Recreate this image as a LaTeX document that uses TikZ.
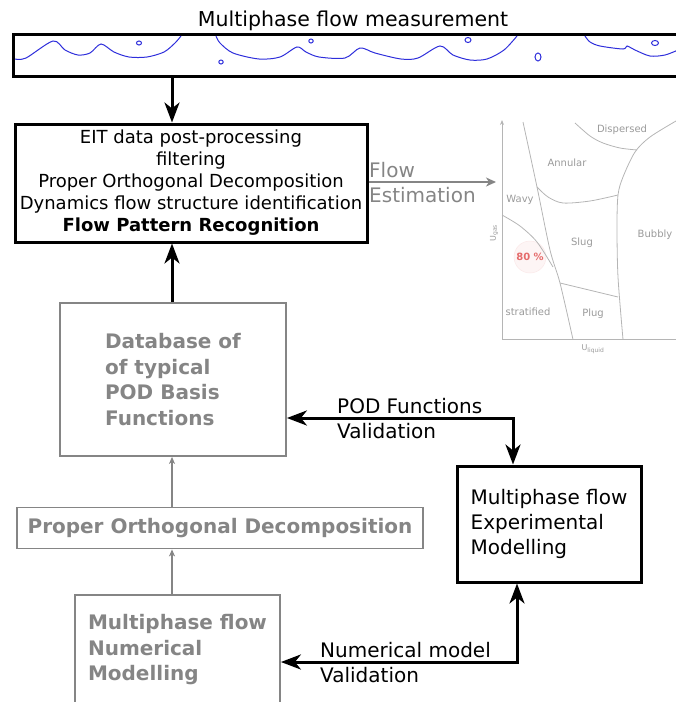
\documentclass[tikz,border=0pt]{standalone}
\usepackage{fontspec}
\setmainfont{DejaVu Sans}
\usetikzlibrary{arrows.meta}
\definecolor{boxgray}{HTML}{858585}
\definecolor{mapgray}{HTML}{B5B5B5}
\definecolor{maptext}{HTML}{9A9A9A}
\definecolor{wave}{HTML}{2E2EDB}
\definecolor{pct}{HTML}{E56B6B}
\begin{document}
\begin{tikzpicture}[x=1pt,y=-1pt,
  blackbox/.style={draw=black, line width=3pt, inner sep=0pt},
  graybox/.style={draw=boxgray, line width=1.8pt, inner sep=0pt},
  graytext/.style={text=boxgray, font=\fontsize{20}{25.5}\selectfont\bfseries},
  bigtext/.style={font=\fontsize{20}{25}\selectfont},
  lbl/.style={anchor=west, align=left, inner sep=0pt, font=\fontsize{20}{25}\selectfont},
  bigarrow/.style={line width=3pt, -{Stealth[length=20pt,width=15pt,inset=6pt]}},
  dblarrow/.style={line width=3pt, line join=miter, {Stealth[length=20pt,width=15pt,inset=6pt]}-{Stealth[length=20pt,width=15pt,inset=6pt]}},
  thinarrow/.style={draw=boxgray, line width=1.3pt, -{Stealth[length=7pt,width=6pt,inset=2pt]}},
  grayarrow/.style={draw=boxgray, line width=1.5pt, -{Stealth[length=10pt,width=9pt,inset=3pt]}},
  mapline/.style={draw=mapgray, line width=0.8pt},
  maplbl/.style={text=maptext, inner sep=0pt, font=\fontsize{10}{12}\selectfont},
  wavy/.style={draw=wave, line width=1pt},
]
\useasboundingbox (0,0) rectangle (676,702);
\clip (0,0) rectangle (676,702);

% ---- pipe ----
\node[font=\fontsize{20.5}{24}\selectfont, inner sep=0pt] (title) at (353,21) {Multiphase flow measurement};
\draw[line width=3pt, line join=miter] (680,34.5) -- (13,34.5) -- (13,76.5) -- (680,76.5);
\draw[wavy] plot[smooth, tension=0.5] coordinates {(15,59) (26,58) (53,41) (65,50) (78,55) (90,53) (101,44) (114,52) (129,57) (147,57) (164,52) (175,43) (181,36)};
\draw[wavy] plot[smooth, tension=0.5] coordinates {(216,36) (220,43) (233,53) (259,59) (280,57) (297,47) (306,52) (319,57) (345,58) (360,48) (375,53) (401,59) (418,58) (440,46) (453,55) (470,60) (487,59) (504,50) (517,36)};
\draw[wavy] plot[smooth, tension=0.5] coordinates {(585,36) (590,42) (600,46) (623,49) (627,46) (635,50) (650,56) (665,55) (678,50)};
\draw[wavy] (139,43) ellipse (2.5 and 2);
\draw[wavy] (311,41) ellipse (2.2 and 2);
\draw[wavy] (221,62) ellipse (2.2 and 2);
\draw[wavy] (468,40) ellipse (3 and 2.5);
\draw[wavy] (538,57) ellipse (3 and 4);
\draw[wavy] (655,43) ellipse (3.5 and 2.5);
\coordinate (pipeout) at (172,77);

% ---- boxes ----
\node[blackbox, minimum width=352pt, minimum height=118pt, align=center,
      font=\fontsize{18}{22}\selectfont] (eit) at (191,183)
  {EIT data post-processing\\filtering\\Proper Orthogonal Decomposition\\Dynamics flow structure identification\\\textbf{Flow Pattern Recognition}};
\node[graybox, graytext, minimum width=226pt, minimum height=153pt, align=left] (db) at (173,379.5)
  {Database of\\of typical\\POD Basis\\Functions};
\node[graybox, graytext, minimum width=406pt, minimum height=41pt] (pod) at (220,528)
  {Proper Orthogonal Decomposition};
\node[graybox, graytext, minimum width=205pt, minimum height=110pt, align=left] (num) at (177.5,650)
  {Multiphase flow\\Numerical\\Modelling};
\node[blackbox, bigtext, minimum width=184pt, minimum height=116pt, align=left] (exp) at (549,524)
  {Multiphase flow\\Experimental\\Modelling};

% ---- connectors ----
\draw[bigarrow] (pipeout) -- (pipeout |- eit.north);
\draw[bigarrow] (db.north -| pipeout) -- (eit.south -| pipeout);
\draw[thinarrow] (pod.north -| pipeout) -- (db.south -| pipeout);
\draw[thinarrow] (num.north -| pipeout) -- (pod.south -| pipeout);

\coordinate (mapin) at (496,182);
\draw[grayarrow] (eit.east |- mapin) -- (mapin);
\node[lbl, text=boxgray] (flowlbl) at (369,182.5) {Flow\\Estimation};

\coordinate (pv) at (513,418);
\draw[dblarrow] (pv -| db.east) -- (pv) -- (pv |- exp.north);
\node[lbl] (pvlbl) at (337,419) {POD Functions\\Validation};

\coordinate (nv) at (517,662);
\draw[dblarrow] (nv -| num.east) -- (nv) -- (nv |- exp.south);
\node[lbl] (nvlbl) at (320,663) {Numerical model\\Validation};

% ---- flow pattern map ----
\fill[pct!7] (530,257) circle (16);
\draw[pct!15, line width=0.5pt] (530,257) circle (16);
\draw[mapline, -{Stealth[length=5pt,width=4pt]}] (502,339.5) -- (502,120);
\draw[mapline] (502,339.5) -- (680,339.5);
\draw[mapline] plot[smooth] coordinates {(523,122) (537,187) (550,250) (560,283) (573,339.5)};
\draw[mapline] plot[smooth] coordinates {(502,215) (520,226) (537,242) (553,267)};
\draw[mapline] plot[smooth] coordinates {(537,187) (548,197) (563,203) (590,201) (618,195)};
\draw[mapline] plot[smooth] coordinates {(676,121) (650,137) (635,152) (623,177) (618,195) (617,227) (618,277) (623,339.5)};
\draw[mapline] plot[smooth] coordinates {(575,123) (590,136) (603,143) (620,148) (637,150)};
\draw[mapline] (560,283) -- (618,297);
\node[maplbl] (mdisp) at (622,130) {Dispersed};
\node[maplbl] (mann) at (567,163) {Annular};
\node[maplbl] (mwavy) at (520,200) {Wavy};
\node[maplbl] (mslug) at (582,243) {Slug};
\node[maplbl] (mbub) at (655,235) {Bubbly};
\node[maplbl, text=pct, font=\fontsize{10}{12}\selectfont\bfseries] (mpct) at (530,257) {80 \%};
\node[maplbl] (mstrat) at (528,312) {stratified};
\node[maplbl] (mplug) at (593,314) {Plug};
\node[maplbl, font=\fontsize{8}{10}\selectfont] (mul) at (593,349) {U\textsubscript{liquid}};
\node[maplbl, font=\fontsize{8}{10}\selectfont, rotate=90] (mug) at (494,233) {U\textsubscript{gas}};
\end{tikzpicture}
\end{document}
